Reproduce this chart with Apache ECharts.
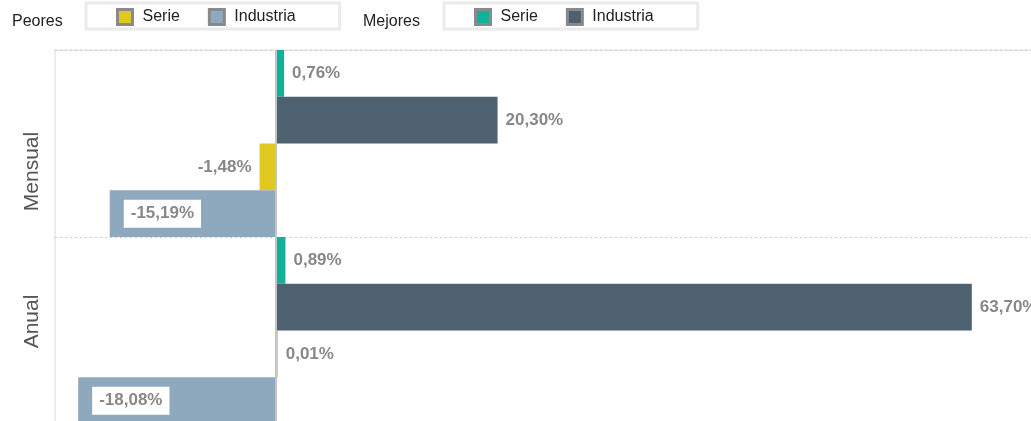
<!DOCTYPE html>
<html>
<head>
	<meta charset="UTF-8">
	<title>Peores / Mejores</title>
	<script src="https://cdn.jsdelivr.net/npm/echarts@6/dist/echarts.min.js"></script>
	<style>
		html, body { margin: 0; padding: 0; background: #ffffff; }
		#chart { width: 1031px; height: 421px; }
	</style>
</head>
<body>
	<div id="chart"></div>
	<script>
		// categories (top to bottom)
		var periodos = ['Mensual', 'Anual'];
		// mejores
		var mejoresSerie = [0.76, 0.89];
		var mejoresIndustria = [20.30, 63.70];
		// peores
		var peoresSerie = [-1.48, 0.01];
		var peoresIndustria = [-15.19, -18.08];

		var nombres = {
			m_serie: 'Serie',
			m_ind: 'Industria',
			p_serie: 'Serie',
			p_ind: 'Industria'
		};
		var fuente = 'Liberation Sans, Arial, sans-serif';

		function pct(v) {
			return v.toFixed(2).replace('.', ',') + '%';
		}

		var etiqueta = {
			show: true,
			fontFamily: fuente,
			fontSize: 17,
			fontWeight: 'bold',
			color: '#888888',
			formatter: function(p) { return pct(p.value); }
		};

		function fuera(v) {
			return {
				value: v,
				label: { position: v < 0 ? 'left' : 'right' }
			};
		}

		var myChart = echarts.init(document.getElementById('chart'));

		var legendaBase = {
			orient: 'horizontal',
			top: 3,
			padding: [5, 44, 3, 30],
			borderColor: '#ebebeb',
			borderWidth: 3,
			itemGap: 28,
			itemWidth: 15,
			itemHeight: 15,
			icon: 'rect',
			itemStyle: { borderColor: '#8a8a8a', borderWidth: 3 },
			textStyle: { fontFamily: fuente, fontSize: 16, color: '#222222', padding: [2, 0, 0, 5] },
			formatter: function(n) { return nombres[n]; },
			selectedMode: false
		};

		option = {
			animation: false,
			title: [{
				text: 'Peores',
				left: 7,
				top: 9,
				textStyle: { fontFamily: fuente, fontSize: 16, fontWeight: 'normal', color: '#222222' }
			}, {
				text: 'Mejores',
				left: 358,
				top: 9,
				textStyle: { fontFamily: fuente, fontSize: 16, fontWeight: 'normal', color: '#222222' }
			}],
			legend: [
				Object.assign({}, legendaBase, { left: 86, data: ['p_serie', 'p_ind'] }),
				Object.assign({}, legendaBase, { left: 444, data: ['m_serie', 'm_ind'] })
			],
			grid: {
				left: 55,
				top: 50,
				width: 990,
				height: 374,
				outerBoundsMode: 'none',
				show: true,
				borderColor: '#ececec',
				borderWidth: 2,
				containLabel: false
			},
			xAxis: {
				type: 'value',
				min: -20.2,
				max: 70.4,
				show: false
			},
			yAxis: {
				type: 'category',
				inverse: true,
				data: periodos,
				axisLine: { show: false },
				axisTick: { show: false },
				splitLine: {
					show: true,
					lineStyle: { color: '#cccccc', type: [2, 3], width: 1 }
				},
				axisLabel: {
					rotate: 90,
					margin: 12,
					fontFamily: fuente,
					fontSize: 21,
					color: '#555555',
					formatter: function(v) {
						return v === 'Mensual' ? '{m|' + v + '}' : '{a|' + v + '}';
					},
					rich: {
						m: { fontFamily: fuente, fontSize: 21, color: '#555555', padding: [0, 56, 0, 0] },
						a: { fontFamily: fuente, fontSize: 21, color: '#555555', padding: [0, 0, 0, 18] }
					}
				}
			},
			series: [{
				name: 'm_serie',
				type: 'bar',
				barGap: '0%',
				barCategoryGap: '0%',
				itemStyle: { color: '#12b29a' },
				label: Object.assign({}, etiqueta, { position: 'right', distance: 8 }),
				data: mejoresSerie,
				markLine: {
					silent: true,
					symbol: 'none',
					label: { show: false },
					lineStyle: { color: '#c4c4c4', width: 2, type: 'solid' },
					data: [{ xAxis: 0 }]
				}
			}, {
				name: 'm_ind',
				type: 'bar',
				itemStyle: { color: '#4d6171' },
				label: Object.assign({}, etiqueta, { position: 'right', distance: 8 }),
				data: mejoresIndustria
			}, {
				name: 'p_serie',
				type: 'bar',
				barMinHeight: 2,
				itemStyle: { color: '#dfc81f' },
				label: Object.assign({}, etiqueta, { distance: 8 }),
				data: peoresSerie.map(fuera)
			}, {
				name: 'p_ind',
				type: 'bar',
				itemStyle: { color: '#8ea8bd' },
				label: Object.assign({}, etiqueta, {
					position: 'insideLeft',
					distance: 14,
					backgroundColor: '#ffffff',
					padding: [6, 7, 5, 7]
				}),
				data: peoresIndustria
			}]
		};

		myChart.setOption(option);
	</script>
</body>
</html>
